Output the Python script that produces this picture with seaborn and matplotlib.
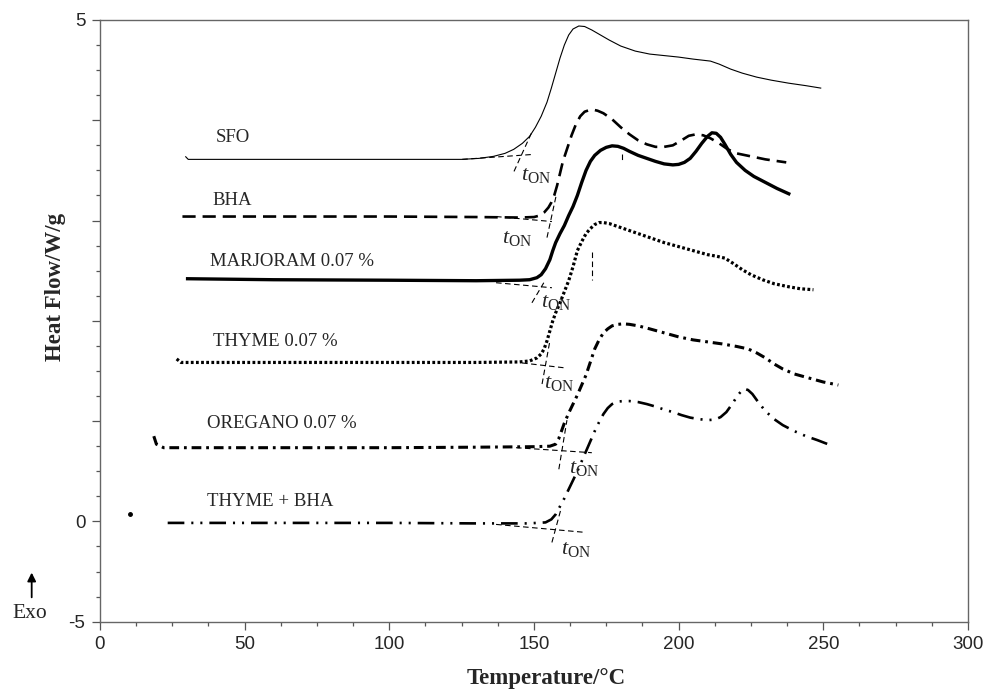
import numpy as np
import matplotlib
matplotlib.use("Agg")
import matplotlib.pyplot as plt
import seaborn as sns

# DSC thermograms (temperature in °C, heat flow in W/g, curves shifted)
sfo_t = [29.5, 30.5, 50, 100, 125, 131, 136, 140, 143, 146, 148.5, 150.5, 152.5, 154.5, 156,
         157.5, 159, 160.5, 162, 163.5, 165.5, 167.5, 170, 173, 176, 180, 185, 190, 195, 200,
         205, 208, 211, 214, 218, 222, 227, 232, 238, 244, 249.3]
sfo_hf = [3.64, 3.61, 3.61, 3.61, 3.61, 3.62, 3.64, 3.67, 3.71, 3.77, 3.84, 3.93, 4.04, 4.18, 4.32,
          4.47, 4.62, 4.75, 4.85, 4.91, 4.94, 4.935, 4.90, 4.85, 4.80, 4.74, 4.69, 4.66, 4.645, 4.63,
          4.61, 4.60, 4.59, 4.56, 4.51, 4.47, 4.43, 4.40, 4.37, 4.345, 4.32]

bha_t = [28.5, 60, 100, 130, 145, 150, 152, 153.5, 155, 156, 157, 158, 159, 160, 161.5, 163,
         164.5, 166, 167.5, 169, 170.5, 172, 174, 177, 180, 183, 186, 189, 192, 195, 198, 201,
         203.5, 206, 208.5, 211, 214, 217, 220, 225, 230, 237.2]
bha_hf = [3.04, 3.04, 3.04, 3.035, 3.03, 3.035, 3.05, 3.08, 3.13, 3.18, 3.25, 3.35, 3.47, 3.59,
          3.72, 3.85, 3.96, 4.04, 4.085, 4.10, 4.105, 4.095, 4.07, 4.01, 3.93, 3.86, 3.80, 3.76,
          3.735, 3.735, 3.75, 3.80, 3.845, 3.86, 3.85, 3.82, 3.77, 3.71, 3.67, 3.64, 3.61, 3.58]

marj_t = [29.7, 60, 100, 130, 145, 148.5, 151, 152.5, 154, 155.5, 156.5, 157.5, 159, 160.5, 162,
          163.5, 165, 166.5, 168, 169.5, 171, 173, 175, 177, 179, 181, 183, 186, 189, 192, 195,
          198, 200, 202, 204, 206, 208, 210, 211.5, 213, 214.5, 216, 218, 220, 223, 226, 230,
          234, 238.6]
marj_hf = [2.42, 2.41, 2.405, 2.40, 2.405, 2.41, 2.43, 2.46, 2.52, 2.61, 2.70, 2.78, 2.87, 2.95,
           3.05, 3.14, 3.25, 3.38, 3.50, 3.59, 3.65, 3.70, 3.73, 3.745, 3.74, 3.72, 3.69, 3.65,
           3.62, 3.59, 3.565, 3.555, 3.56, 3.58, 3.62, 3.69, 3.77, 3.84, 3.875, 3.87, 3.83, 3.76,
           3.66, 3.58, 3.50, 3.44, 3.38, 3.32, 3.26]

thyme_t = [26.5, 28, 60, 100, 130, 145, 148.5, 151, 152.5, 153.5, 154.5, 155.5, 156.5, 157.5,
           159, 160.5, 162, 163.5, 165, 166.5, 168, 169.5, 171, 172.5, 174, 176, 179, 183, 187,
           191, 195, 200, 205, 210, 213, 216, 219, 222, 225, 229, 233, 238, 242, 246.6]
thyme_hf = [1.62, 1.585, 1.585, 1.585, 1.585, 1.59, 1.60, 1.63, 1.67, 1.72, 1.80, 1.90, 2.00,
            2.08, 2.18, 2.29, 2.40, 2.54, 2.70, 2.79, 2.87, 2.92, 2.96, 2.98, 2.98, 2.97, 2.94,
            2.90, 2.86, 2.82, 2.78, 2.74, 2.70, 2.66, 2.645, 2.625, 2.57, 2.51, 2.46, 2.41, 2.37,
            2.34, 2.32, 2.31]

oreg_t = [18.6, 19.5, 22, 60, 100, 130, 150, 155.5, 157.5, 158.5, 159.5, 160.5, 162, 163.5, 165,
          166.5, 168, 169.5, 171, 172.5, 174, 175.5, 177, 179, 181, 183, 186, 190, 195, 200, 205,
          210, 215, 220, 224, 227, 230, 233, 236, 240, 245, 250, 255.2]
oreg_hf = [0.85, 0.77, 0.735, 0.735, 0.735, 0.74, 0.745, 0.75, 0.77, 0.82, 0.90, 0.98, 1.08,
           1.17, 1.26, 1.36, 1.46, 1.59, 1.72, 1.81, 1.88, 1.92, 1.95, 1.965, 1.97, 1.965, 1.95,
           1.92, 1.88, 1.84, 1.81, 1.79, 1.77, 1.745, 1.72, 1.68, 1.63, 1.57, 1.52, 1.47, 1.43,
           1.39, 1.36]

tb_t = [23.4, 60, 100, 130, 148, 154, 156, 157.5, 159, 160.5, 162, 163.5, 165, 166.5, 168, 169.5,
        171, 172.5, 174, 175.5, 177, 179, 181, 183, 186, 189, 192, 195, 198, 201, 204, 207, 210,
        212.5, 214.5, 216.5, 218.5, 220.5, 222, 223, 224, 225.5, 227.5, 230, 233, 236, 240, 244,
        248, 253.4]
tb_hf = [-0.075, -0.075, -0.075, -0.1, -0.1, -0.05, 0.02, 0.07, 0.15, 0.23, 0.32, 0.41, 0.50,
         0.60, 0.70, 0.80, 0.90, 0.99, 1.07, 1.13, 1.17, 1.195, 1.20, 1.20, 1.19, 1.17, 1.145,
         1.115, 1.09, 1.06, 1.035, 1.02, 1.01, 1.015, 1.04, 1.09, 1.17, 1.26, 1.31, 1.32, 1.31,
         1.27, 1.19, 1.10, 1.02, 0.96, 0.90, 0.85, 0.81, 0.75]
tb_dot = (10.3, 0.07)

names = ["SFO", "BHA", "MARJORAM 0.07 %", "THYME 0.07 %", "OREGANO 0.07 %", "THYME + BHA"]
curves = [(sfo_t, sfo_hf), (bha_t, bha_hf), (marj_t, marj_hf),
          (thyme_t, thyme_hf), (oreg_t, oreg_hf), (tb_t, tb_hf)]
label_x = [40.0, 39.0, 37.9, 39.0, 36.9, 36.9]
label_y = [3.83, 3.20, 2.59, 1.79, 0.98, 0.197]

# onset construction: baseline extension and inflection tangent (x0, x1, y0, y1)
base_ext = [(125.2, 150.0, 3.61, 3.66), (136.9, 156.2, 3.04, 2.99), (136.9, 156.2, 2.38, 2.33),
            (145.9, 161.0, 1.58, 1.53), (143.8, 170.0, 0.735, 0.685), (136.9, 167.9, -0.15, -0.55)]
tangent = [(143.1, 149.4, 3.49, 3.89), (154.5, 157.6, 2.83, 3.24), (149.3, 153.4, 2.18, 2.38),
           (152.8, 155.5, 1.37, 1.80), (158.6, 161.4, 0.52, 1.01), (156.2, 159.3, -1.05, 0.12)]
ton_x = [145.5, 139.0, 152.4, 153.4, 162.1, 159.3]
ton_y = [3.46, 2.83, 2.19, 1.39, 0.54, -1.35]

sns.set_style("ticks")
plt.rcParams["font.family"] = ["Liberation Sans", "DejaVu Sans"]
plt.rcParams["mathtext.fontset"] = "custom"
plt.rcParams["mathtext.rm"] = "Liberation Serif"
plt.rcParams["mathtext.it"] = "Liberation Serif:italic"
plt.rcParams["lines.scale_dashes"] = False

styles = [
    dict(lw=0.8, linestyle="-"),
    dict(lw=1.9, linestyle=(0, (9.5, 5))),
    dict(lw=2.4, linestyle="-"),
    dict(lw=2.3, linestyle=(0, (2, 1.7))),
    dict(lw=2.2, linestyle=(0, (7, 3.5, 2, 3.5))),
    dict(lw=1.9, linestyle=(0, (12, 5, 1.5, 5, 1.5, 5))),
]

fig = plt.figure(figsize=(9.87, 6.89), dpi=100)
ax = fig.add_axes([0.1013, 0.0977, 0.8794, 0.8733])


def squash(y):
    y = np.asarray(y, dtype=float)
    return np.where(y < 0, y / 5.0, y)


def unsquash(y):
    y = np.asarray(y, dtype=float)
    return np.where(y < 0, y * 5.0, y)


ax.set_yscale("function", functions=(squash, unsquash))

for (t, hf), st in zip(curves, styles):
    sns.lineplot(x=t, y=hf, ax=ax, color="black", sort=False, estimator=None,
                 solid_capstyle="butt", dash_capstyle="butt", **st)
ax.plot(*tb_dot, marker="o", ms=2.5, color="black")

for (x0, x1, y0, y1) in base_ext + tangent:
    ax.plot([x0, x1], [y0, y1], color="black", lw=0.8, linestyle=(0, (4, 2.5)))

# little peak marks left on the original traces
ax.plot([170.0, 170.0], [2.69, 2.41], color="black", lw=0.8, linestyle=(0, (4, 2.5)))
ax.plot([180.3, 180.3], [3.66, 3.58], color="black", lw=0.8, linestyle=(0, (4, 2.5)))

serif = ["Liberation Serif", "DejaVu Serif"]
for name, lx, ly in zip(names, label_x, label_y):
    ax.text(lx, ly, name, family=serif, fontsize=13.5, ha="left", va="center")
for tx, ty in zip(ton_x, ton_y):
    ax.text(tx, ty, r"$t_{\mathrm{ON}}$", fontsize=16, ha="left", va="center")

ax.set_xlim(0, 300)
ax.set_ylim(-5, 5)
ax.set_xticks(np.arange(0, 301, 50))
ax.set_xticks(np.arange(0, 301, 12.5), minor=True)
ax.set_yticks([-5, 0, 1, 2, 3, 4, 5])
ax.set_yticklabels(["-5", "0", "", "", "", "", "5"])
ax.set_yticks([-3.75, -2.5, -1.25] + [v for v in np.arange(0.25, 5, 0.25) if v % 1], minor=True)
ax.tick_params(which="major", length=5.5, width=0.9, color="#555555", labelsize=13.5, pad=5)
ax.tick_params(which="minor", length=3, width=0.9, color="#555555")
for sp in ax.spines.values():
    sp.set_color("#666666")
    sp.set_linewidth(1.0)

ax.set_xlabel("Temperature/°C", family=serif, fontsize=16.5, fontweight="bold")
ax.set_ylabel("Heat Flow/W/g", family=serif, fontsize=16.5, fontweight="bold")
ax.xaxis.set_label_coords(0.514, -0.077)
ax.yaxis.set_label_coords(-0.039, 0.556)

fig.text(0.0304, 0.110, "Exo", family=serif, fontsize=15.5, ha="center", va="center")
fig.patches.append(matplotlib.patches.FancyArrowPatch(
    (0.0321, 0.129), (0.0321, 0.173), transform=fig.transFigure,
    arrowstyle="-|>,head_length=5,head_width=2.5", color="black", lw=1.3))

fig.savefig("out.png", dpi=100)
